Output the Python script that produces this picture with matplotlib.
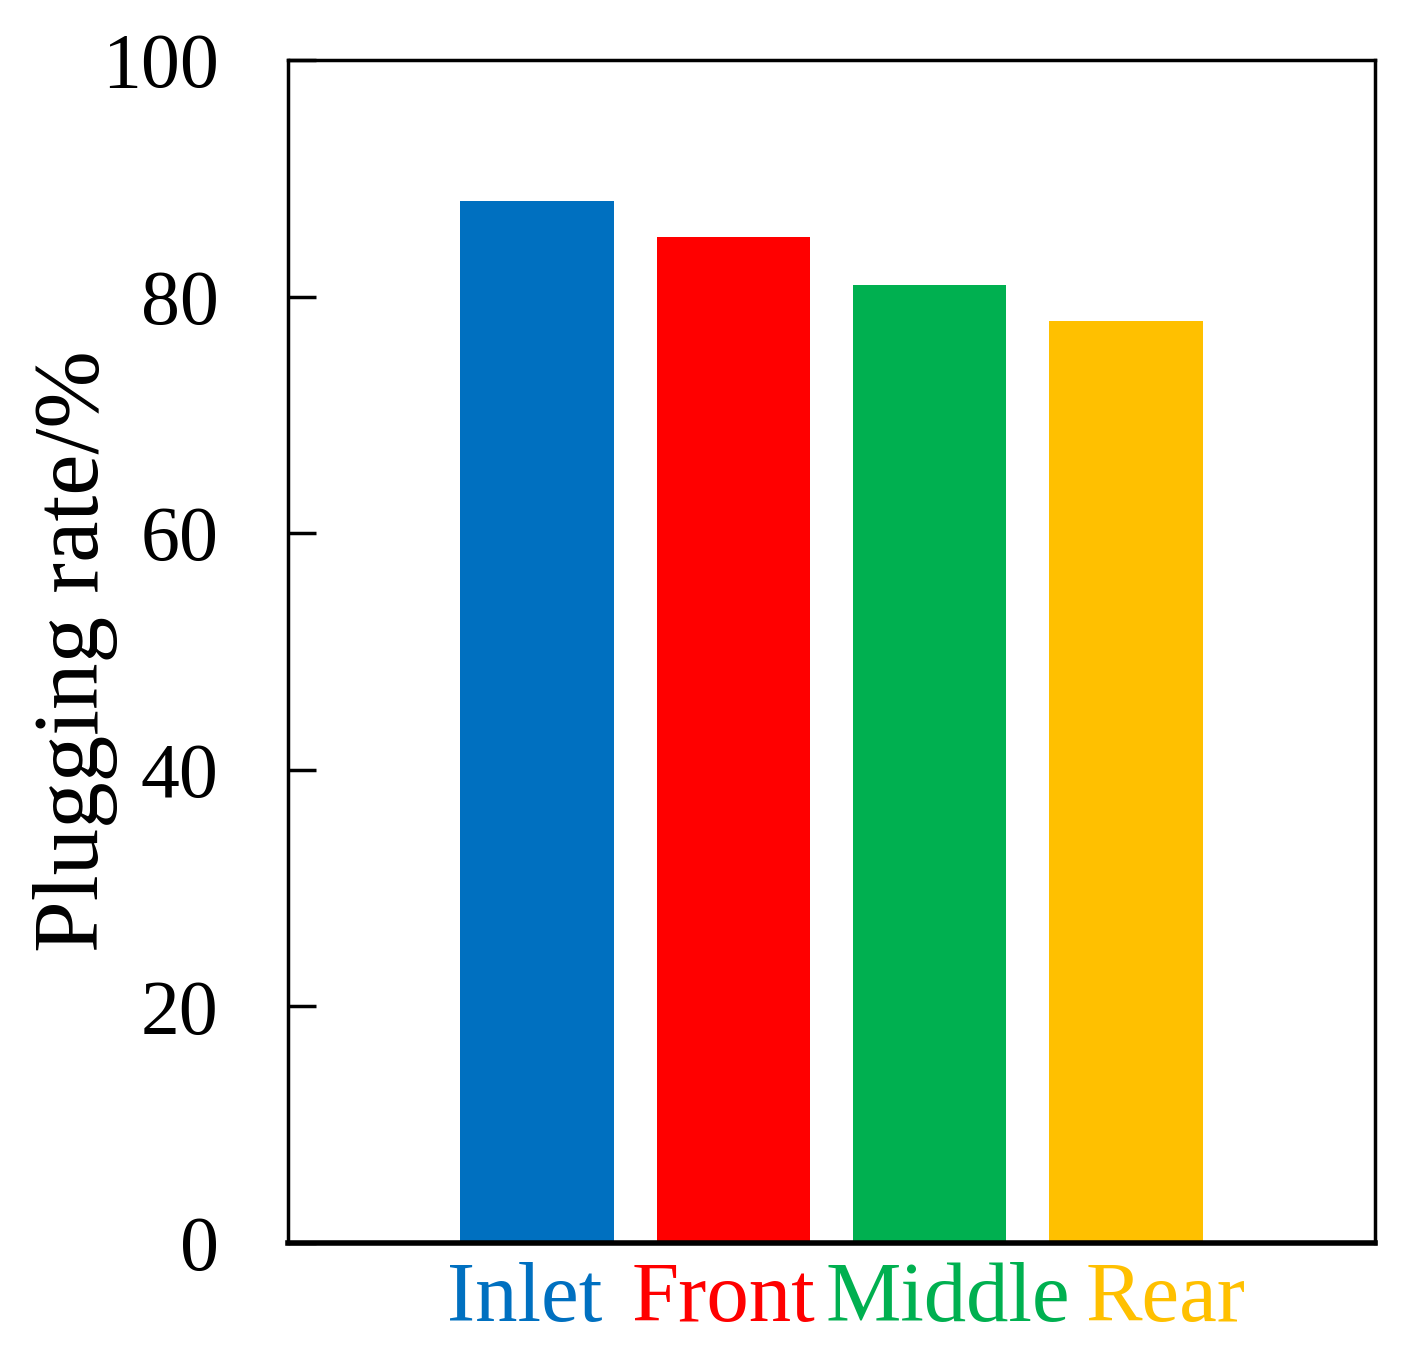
import matplotlib
matplotlib.use("Agg")
import matplotlib.pyplot as plt

# Data
positions = ["Inlet", "Front", "Middle", "Rear"]
plugging_rate = [88.1, 85.0, 81.0, 77.9]
colors = ["#0070C0", "#FF0000", "#00B050", "#FFC000"]
yticks = [0, 20, 40, 60, 80, 100]
# horizontal nudge of each category label (in bar spacings), as laid out in the original
label_shift = [-0.06, -0.05, 0.09, 0.2]

plt.rcParams['font.family'] = ['Liberation Serif', 'DejaVu Serif']

fig = plt.figure(figsize=(14.11, 13.61), dpi=100)
ax = fig.add_axes([0.2041, 0.0867, 0.7704, 0.8692])

x = list(range(len(positions)))
ax.bar(x, plugging_rate, width=0.78, color=colors)

ax.set_xlim(-1.268, 4.268)
ax.set_ylim(0, 100)
ax.set_yticks(yticks)
ax.tick_params(axis='y', direction='in', length=20, width=2.5, labelsize=56, pad=50)
ax.set_xticks([])

# coloured category labels under the bars
for xi, name, c, dx in zip(x, positions, colors, label_shift):
    ax.text(xi + dx, -1.6, name, color=c, fontsize=61, ha='center', va='top')

for side in ['top', 'left', 'right']:
    ax.spines[side].set_linewidth(2.5)
ax.spines['bottom'].set_linewidth(4)

ax.set_ylabel("Plugging rate/%", fontsize=67, labelpad=-12)

plt.savefig("out.png", dpi=100)
